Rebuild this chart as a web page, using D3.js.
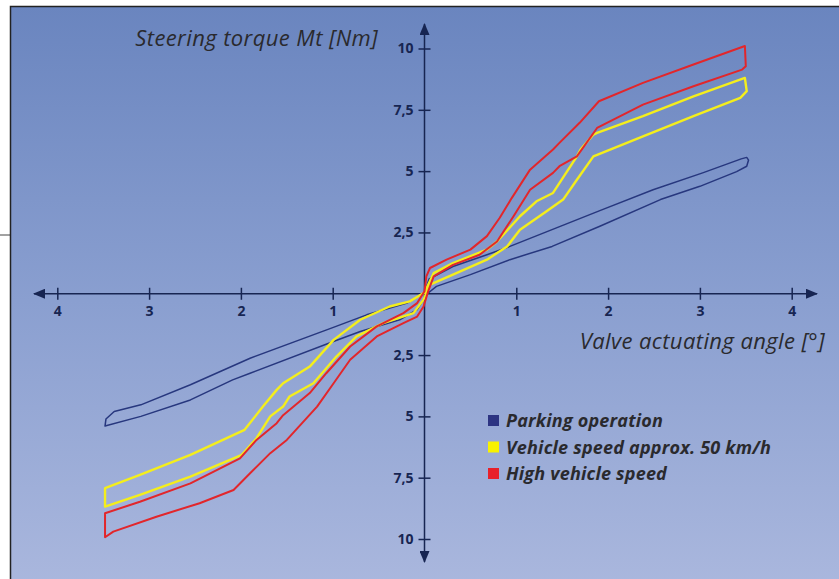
<!DOCTYPE html>
<html>
<head>
<meta charset="utf-8">
<script src="https://cdn.jsdelivr.net/npm/d3@7/dist/d3.min.js"></script>
<style>
  html, body { margin: 0; padding: 0; background: #ffffff; }
  svg { display: block; }
</style>
</head>
<body>
<svg id="chart" width="839" height="579"></svg>
<script>
// ---------------- DATA ----------------
const xTickValues = [-4, -3, -2, -1, 1, 2, 3, 4];
const xTickLabels = ["4", "3", "2", "1", "1", "2", "3", "4"];
const yTickValues = [10, 7.5, 5, 2.5, -2.5, -5, -7.5, -10];
const yTickLabels = ["10", "7,5", "5", "2,5", "2,5", "5", "7,5", "10"];

const seriesNames = ["Parking operation", "Vehicle speed approx. 50 km/h", "High vehicle speed"];
const seriesColors = ["#27377e", "#f4ee1c", "#e2262b"];
const legendColors = ["#2d3482", "#f8f200", "#e8202a"];

// [valve angle (°), steering torque (Nm)] – closed hysteresis loops
const parking = [
  [-3.47,-5.11],[-3.38,-4.80],[-3.09,-4.53],[-2.55,-3.71],[-1.90,-2.63],[-1.00,-1.38],
  [-0.63,-0.86],[-0.19,-0.38],[0.00,0.05],[0.05,0.60],[0.31,1.11],[0.68,1.59],[0.93,1.93],
  [1.91,3.39],[2.49,4.24],[3.03,4.93],[3.45,5.50],[3.51,5.56],[3.53,5.45],[3.51,5.20],
  [3.40,4.98],[3.00,4.38],[2.57,3.84],[1.91,2.75],[1.39,1.93],[0.93,1.39],[0.50,0.78],
  [0.13,0.30],[0.03,0.00],[-0.08,-0.65],[-0.27,-1.06],[-0.70,-1.54],[-1.00,-1.96],
  [-1.90,-3.24],[-2.09,-3.51],[-2.55,-4.33],[-3.09,-5.00],[-3.48,-5.39]
];
const speed50 = [
  [-3.48,-7.93],[-3.10,-7.39],[-2.55,-6.57],[-1.96,-5.55],[-1.76,-4.60],[-1.61,-3.92],
  [-1.54,-3.65],[-1.25,-2.97],[-0.99,-1.88],[-0.70,-1.06],[-0.38,-0.52],[-0.16,-0.31],
  [0.00,0.05],[0.10,0.84],[0.31,1.25],[0.68,1.80],[0.79,2.13],[1.04,3.16],[1.22,3.77],
  [1.40,4.11],[1.66,5.60],[1.70,5.88],[1.84,6.49],[1.88,6.56],[2.38,7.24],[2.93,8.05],
  [3.49,8.80],[3.51,8.26],[3.44,7.99],[2.93,7.24],[2.38,6.42],[1.84,5.60],[1.66,4.65],
  [1.51,3.84],[1.33,3.36],[1.04,2.61],[0.90,1.93],[0.68,1.39],[0.31,0.78],[0.06,0.37],
  [-0.01,-0.24],[-0.12,-0.79],[-0.45,-1.20],[-0.74,-1.74],[-0.96,-2.56],[-1.21,-3.65],
  [-1.47,-4.19],[-1.54,-4.60],[-1.68,-5.00],[-1.83,-5.89],[-1.99,-6.57],[-2.55,-7.46],
  [-3.10,-8.20],[-3.48,-8.68]
];
const highSpeed = [
  [-3.48,-8.95],[-3.10,-8.48],[-2.55,-7.73],[-2.01,-6.71],[-1.83,-5.96],[-1.61,-5.28],
  [-1.54,-4.95],[-1.25,-4.05],[-1.07,-3.24],[-0.81,-2.15],[-0.52,-1.33],[-0.23,-0.79],
  [-0.08,-0.38],[0.00,0.10],[0.02,0.71],[0.06,1.05],[0.24,1.39],[0.50,1.80],[0.68,2.35],
  [0.82,3.10],[0.95,3.90],[1.15,5.06],[1.40,5.88],[1.47,6.15],[1.69,6.97],[1.90,7.85],
  [2.38,8.60],[2.93,9.35],[3.49,10.10],[3.50,9.28],[3.46,9.14],[2.93,8.46],[2.38,7.71],
  [1.88,6.76],[1.66,5.60],[1.47,5.20],[1.40,4.93],[1.15,4.24],[0.97,3.16],[0.79,2.13],
  [0.60,1.59],[0.31,1.18],[0.10,0.71],[0.04,0.10],[-0.01,-0.52],[-0.08,-0.93],
  [-0.23,-1.20],[-0.52,-1.74],[-0.81,-2.69],[-0.99,-3.65],[-1.17,-4.60],[-1.50,-5.96],
  [-1.68,-6.50],[-1.90,-7.32],[-2.08,-8.00],[-2.45,-8.54],[-2.92,-9.09],[-3.39,-9.70],
  [-3.48,-9.93]
];
const seriesData = [parking, speed50, highSpeed];
const seriesWidths = [1.5, 2.4, 2.0];

// ---------------- CHART ----------------
const W = 839, H = 579;
const svg = d3.select("#chart");
const axisColor = "#172552";

const defs = svg.append("defs");
const grad = defs.append("linearGradient").attr("id", "bg")
  .attr("x1", 0).attr("y1", 0).attr("x2", 0).attr("y2", 1);
grad.append("stop").attr("offset", "0%").attr("stop-color", "#6a85bf");
grad.append("stop").attr("offset", "50%").attr("stop-color", "#8a9fd0");
grad.append("stop").attr("offset", "100%").attr("stop-color", "#abb8de");

defs.append("marker").attr("id", "arrow")
  .attr("viewBox", "0 0 12 10").attr("refX", 11).attr("refY", 5)
  .attr("markerWidth", 12).attr("markerHeight", 10).attr("markerUnits", "userSpaceOnUse")
  .attr("orient", "auto-start-reverse")
  .append("path").attr("d", "M0,0 L12,5 L0,10 Z").attr("fill", axisColor);

// panel
svg.append("line").attr("x1", 0).attr("x2", 10).attr("y1", 235).attr("y2", 235)
  .attr("stroke", "#444").attr("stroke-width", 1);
svg.append("rect").attr("x", 10.5).attr("y", 6.5).attr("width", W + 10).attr("height", H + 10)
  .attr("fill", "url(#bg)").attr("stroke", "#222").attr("stroke-width", 1.5);

const x = d3.scaleLinear().domain([-4, 4]).range([57.3, 791.7]);
const y = d3.scaleLinear().domain([-10, 10]).range([539, 48.5]);

// axis lines with arrows
svg.append("line").attr("x1", 34).attr("x2", 817).attr("y1", y(0)).attr("y2", y(0))
  .attr("stroke", axisColor).attr("stroke-width", 1.5)
  .attr("marker-start", "url(#arrow)").attr("marker-end", "url(#arrow)");
svg.append("line").attr("x1", x(0)).attr("x2", x(0)).attr("y1", 562).attr("y2", 24)
  .attr("stroke", axisColor).attr("stroke-width", 1.5)
  .attr("marker-start", "url(#arrow)").attr("marker-end", "url(#arrow)");

const xAxis = d3.axisBottom(x).tickValues(xTickValues)
  .tickFormat((d, i) => xTickLabels[i]).tickSize(0).tickPadding(12);
const gx = svg.append("g").attr("transform", `translate(0,${y(0)})`).call(xAxis);
gx.select(".domain").remove();
gx.selectAll(".tick line").attr("y1", -6).attr("y2", 6)
  .attr("stroke", axisColor).attr("stroke-width", 1.5);
gx.selectAll(".tick text").attr("fill", axisColor)
  .style("font", "bold 14px 'Open Sans', sans-serif");

const yAxis = d3.axisLeft(y).tickValues(yTickValues)
  .tickFormat((d, i) => yTickLabels[i]).tickSize(0).tickPadding(11);
const gy = svg.append("g").attr("transform", `translate(${x(0)},0)`).call(yAxis);
gy.select(".domain").remove();
gy.selectAll(".tick line").attr("x1", -6).attr("x2", 6)
  .attr("stroke", axisColor).attr("stroke-width", 1.5);
gy.selectAll(".tick text").attr("fill", axisColor)
  .style("font", "bold 14px 'Open Sans', sans-serif");

// curves
const line = d3.line().x(d => x(d[0])).y(d => y(d[1])).curve(d3.curveLinearClosed);
seriesData.forEach((data, i) => {
  svg.append("path").attr("d", line(data))
    .attr("fill", "none").attr("stroke", seriesColors[i])
    .attr("stroke-width", seriesWidths[i]).attr("stroke-linejoin", "round");
});

// axis titles
svg.append("text").attr("x", 378).attr("y", 46).attr("text-anchor", "end")
  .attr("fill", "#2a2a2e").style("font", "italic 22px 'Open Sans', sans-serif")
  .style("letter-spacing", "0.4px")
  .text("Steering torque Mt [Nm]");
svg.append("text").attr("x", 825).attr("y", 349).attr("text-anchor", "end")
  .attr("fill", "#2a2a2e").style("font", "italic 22px 'Open Sans', sans-serif")
  .style("letter-spacing", "0.4px")
  .text("Valve actuating angle [°]");

// legend
const lg = svg.append("g");
seriesNames.forEach((name, i) => {
  const cy = 420.5 + i * 26.5;
  lg.append("rect").attr("x", 488).attr("y", cy - 5.5).attr("width", 11).attr("height", 11)
    .attr("fill", legendColors[i]);
  lg.append("text").attr("x", 506).attr("y", cy + 6.5).attr("fill", "#2a2a2e")
    .style("font", "italic bold 18px 'Open Sans', sans-serif")
    .style("letter-spacing", "0.2px").text(name);
});
</script>
</body>
</html>
